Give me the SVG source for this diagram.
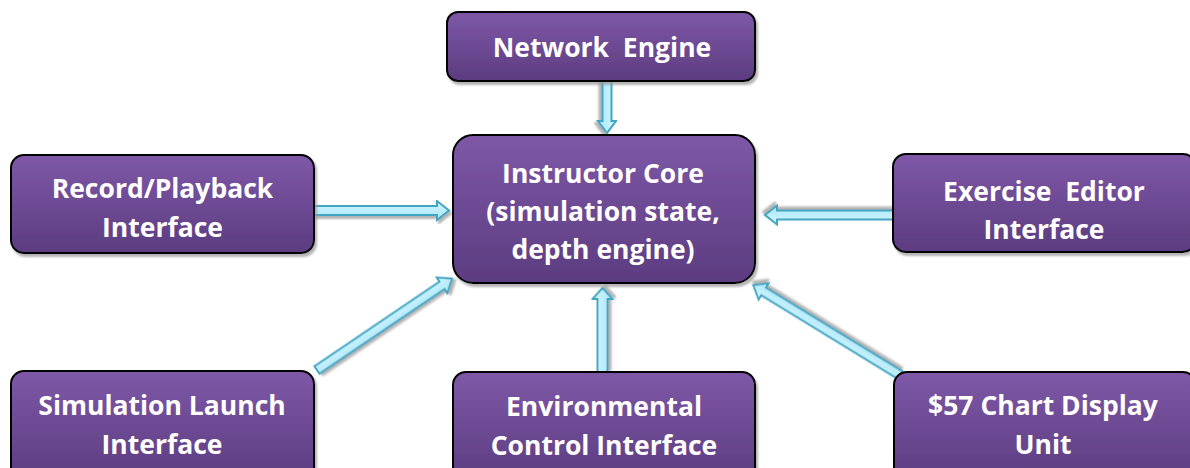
<svg xmlns="http://www.w3.org/2000/svg" width="1190" height="468" viewBox="0 0 1190 468">
  <defs>
    <linearGradient id="boxFill" x1="0" y1="0" x2="0" y2="1">
      <stop offset="0" stop-color="#7e58a7"/>
      <stop offset="1" stop-color="#5c3c80"/>
    </linearGradient>
    <linearGradient id="arrowFill" x1="0" y1="0" x2="0" y2="1">
      <stop offset="0" stop-color="#d6f6fe"/>
      <stop offset="1" stop-color="#a6e6f9"/>
    </linearGradient>
    <filter id="shadow" x="-5%" y="-5%" width="115%" height="125%">
      <feGaussianBlur in="SourceAlpha" stdDeviation="1"/>
      <feOffset dx="2" dy="3" result="off"/>
      <feFlood flood-color="#9a9a9a" flood-opacity="0.75"/>
      <feComposite in2="off" operator="in"/>
      <feMerge>
        <feMergeNode/>
        <feMergeNode in="SourceGraphic"/>
      </feMerge>
    </filter>
  </defs>
  <style>
    .box { fill: url(#boxFill); stroke: #000; stroke-width: 2; filter: url(#shadow); }
    .lbl { font-family: "Open Sans", Lato, sans-serif; font-weight: 700; font-size: 26.5px; fill: #fff; text-anchor: middle; font-variant-ligatures: none; }
    .arrow { fill: url(#arrowFill); stroke: #42a6c3; stroke-width: 2; stroke-linejoin: miter; filter: url(#shadow); }
  </style>

  <!-- block arrows: each path points along +x with its tail at the origin -->
  <g id="connectors">
    <!-- Network Engine -> Instructor Core -->
    <path class="arrow" transform="translate(607,81) rotate(90)" d="M0,-4.5 H40 V-9 L52,0 L40,9 V4.5 H0 Z"/>
    <!-- Record/Playback -> Instructor Core -->
    <path class="arrow" transform="translate(313,210.5)" d="M0,-4.5 H124 V-9.5 L136,0 L124,9.5 V4.5 H0 Z"/>
    <!-- Exercise Editor -> Instructor Core -->
    <path class="arrow" transform="translate(894,215) rotate(180)" d="M0,-4.5 H117 V-9.5 L129,0 L117,9.5 V4.5 H0 Z"/>
    <!-- Environmental Control -> Instructor Core -->
    <path class="arrow" transform="translate(602.5,372) rotate(-90)" d="M0,-5 H73 V-10 L84,0 L73,10 V5 H0 Z"/>
    <!-- Simulation Launch -> Instructor Core -->
    <path class="arrow" transform="translate(317,370) rotate(-34.1)" d="M0,-4.5 H151 V-9.5 L163,0 L151,9.5 V4.5 H0 Z"/>
    <!-- Chart Display Unit -> Instructor Core -->
    <path class="arrow" transform="translate(900,375) rotate(-148.5)" d="M0,-4.5 H160 V-9.5 L172,0 L160,9.5 V4.5 H0 Z"/>
  </g>

  <g id="network-engine">
    <rect class="box" x="447" y="12" width="308" height="69" rx="11"/>
    <text class="lbl" x="602" y="57" xml:space="preserve">Network  Engine</text>
  </g>

  <g id="instructor-core">
    <rect class="box" x="453" y="135" width="302" height="148" rx="20"/>
    <text class="lbl" x="603" y="183">Instructor Core</text>
    <text class="lbl" x="603" y="221">(simulation state,</text>
    <text class="lbl" x="603" y="259">depth engine)</text>
  </g>

  <g id="record-playback">
    <rect class="box" x="11" y="155" width="303" height="98" rx="13"/>
    <text class="lbl" x="162.5" y="198">Record/Playback</text>
    <text class="lbl" x="162.5" y="237">Interface</text>
  </g>

  <g id="exercise-editor">
    <rect class="box" x="893" y="154" width="303" height="98" rx="13"/>
    <text class="lbl" x="1044" y="201" xml:space="preserve">Exercise  Editor</text>
    <text class="lbl" x="1044" y="239">Interface</text>
  </g>

  <g id="simulation-launch">
    <rect class="box" x="11" y="371" width="303" height="110" rx="13"/>
    <text class="lbl" x="162" y="415">Simulation Launch</text>
    <text class="lbl" x="162" y="454">Interface</text>
  </g>

  <g id="environmental-control">
    <rect class="box" x="453" y="372" width="302" height="110" rx="13"/>
    <text class="lbl" x="604" y="416">Environmental</text>
    <text class="lbl" x="604" y="455">Control Interface</text>
  </g>

  <g id="chart-display">
    <rect class="box" x="894" y="372" width="302" height="110" rx="13"/>
    <text class="lbl" x="1043" y="415">$57 Chart Display</text>
    <text class="lbl" x="1043" y="454">Unit</text>
  </g>
</svg>
